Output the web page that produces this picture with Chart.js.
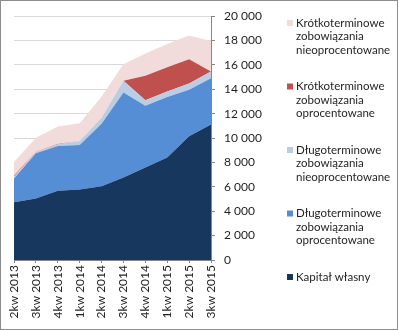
<!DOCTYPE html>
<html>
<head>
<meta charset="utf-8">
<script src="https://cdn.jsdelivr.net/npm/chart.js@4/dist/chart.umd.min.js"></script>
<style>
  html, body { margin: 0; padding: 0; background: #fff; }
  canvas { display: block; }
</style>
</head>
<body>
<canvas id="areaChart" width="398" height="330"></canvas>
<script>
// quarters on the x axis
const quarters = ["2kw 2013", "3kw 2013", "4kw 2013", "1kw 2014", "2kw 2014",
                  "3kw 2014", "4kw 2014", "1kw 2015", "2kw 2015", "3kw 2015"];

// series (stacked from the bottom up)
const kapitalWlasny   = [4730, 5050, 5680, 5790, 6060, 6770, 7580, 8400, 10160, 11110];
const dlugoOproc      = [1950, 3700, 3670, 3640, 5110, 6980, 5080, 4970, 3810, 3810];
const dlugoNieoproc   = [170, 110, 130, 330, 490, 950, 440, 460, 510, 540];
const krotkoOproc     = [80, 30, 30, 0, 0, 0, 2010, 1990, 1990, 0];
const krotkoNieoproc  = [1110, 1140, 1440, 1460, 1760, 1360, 1820, 1900, 1950, 2500];

const seriesNames = [
    ["Kapitał własny"],
    ["Długoterminowe", "zobowiązania", "oprocentowane"],
    ["Długoterminowe", "zobowiązania", "nieoprocentowane"],
    ["Krótkoterminowe", "zobowiązania", "oprocentowane"],
    ["Krótkoterminowe", "zobowiązania", "nieoprocentowane"]
];
const seriesColors = ["#17375E", "#558ED5", "#B9CDE5", "#C0504D", "#F2DCDB"];

const yTicks = [0, 2000, 4000, 6000, 8000, 10000, 12000, 14000, 16000, 18000, 20000];

const FONT = "Lato";
const TEXT = "#1f1f1f";

const allSeries = [kapitalWlasny, dlugoOproc, dlugoNieoproc, krotkoOproc, krotkoNieoproc];

// legend + frame drawn by hand so the names can wrap over lines
const sideLegend = {
    id: "sideLegend",
    beforeDraw(chart) {
        const ctx = chart.ctx;
        ctx.save();
        ctx.fillStyle = "#fff";
        ctx.fillRect(0, 0, chart.width, chart.height);
        ctx.restore();
    },
    afterDraw(chart) {
        const ctx = chart.ctx;
        ctx.save();
        ctx.strokeStyle = "#8c8c8c";
        ctx.lineWidth = 1;
        ctx.strokeRect(0.5, 0.5, chart.width - 1, chart.height - 1);

        ctx.font = "11.5px " + FONT;
        ctx.textBaseline = "middle";
        ctx.fillStyle = TEXT;
        const n = chart.data.datasets.length;
        for (let i = n - 1; i >= 0; i--) {
            const ds = chart.data.datasets[i];
            const y0 = 23 + (n - 1 - i) * 63.5;
            ctx.fillStyle = ds.backgroundColor;
            ctx.fillRect(287, y0 - 3, 6, 6);
            ctx.fillStyle = TEXT;
            seriesNames[i].forEach((line, k) => {
                ctx.fillText(line, 296, y0 + k * 13.5);
            });
        }
        ctx.restore();
    }
};

const ctx = document.getElementById("areaChart").getContext("2d");
const areaChart = new Chart(ctx, {
    type: "line",
    data: {
        labels: quarters,
        datasets: allSeries.map((vals, i) => ({
            label: seriesNames[i].join(" "),
            data: vals,
            backgroundColor: seriesColors[i],
            borderColor: seriesColors[i],
            borderWidth: 0,
            pointRadius: 0,
            tension: 0,
            fill: i === 0 ? "origin" : "-1"
        }))
    },
    options: {
        responsive: false,
        animation: false,
        layout: { padding: { left: 14, top: 14, right: 117, bottom: 8 } },
        plugins: {
            legend: { display: false },
            tooltip: { enabled: false }
        },
        scales: {
            x: {
                offset: false,
                grid: {
                    display: true,
                    drawOnChartArea: false,
                    drawTicks: true,
                    tickLength: 3,
                    tickColor: "#868686"
                },
                border: { display: true, color: "#868686" },
                ticks: {
                    autoSkip: false,
                    minRotation: 90,
                    maxRotation: 90,
                    padding: 2,
                    color: TEXT,
                    font: { family: FONT, size: 12 }
                },
                afterFit(scale) { scale.height = 62; }
            },
            y: {
                position: "right",
                stacked: true,
                min: 0,
                max: 20000,
                afterBuildTicks(scale) { scale.ticks = yTicks.map(v => ({ value: v })); },
                grid: {
                    color: "#D9D9D9",
                    drawTicks: true,
                    tickLength: 4,
                    tickColor: "#868686"
                },
                border: { display: true, color: "#868686" },
                ticks: {
                    padding: 9,
                    color: TEXT,
                    font: { family: FONT, size: 12 },
                    callback: v => String(v).replace(/\B(?=(\d{3})+(?!\d))/g, " ")
                },
                afterFit(scale) { scale.width = 70; }
            }
        }
    },
    plugins: [sideLegend]
});
</script>
</body>
</html>
